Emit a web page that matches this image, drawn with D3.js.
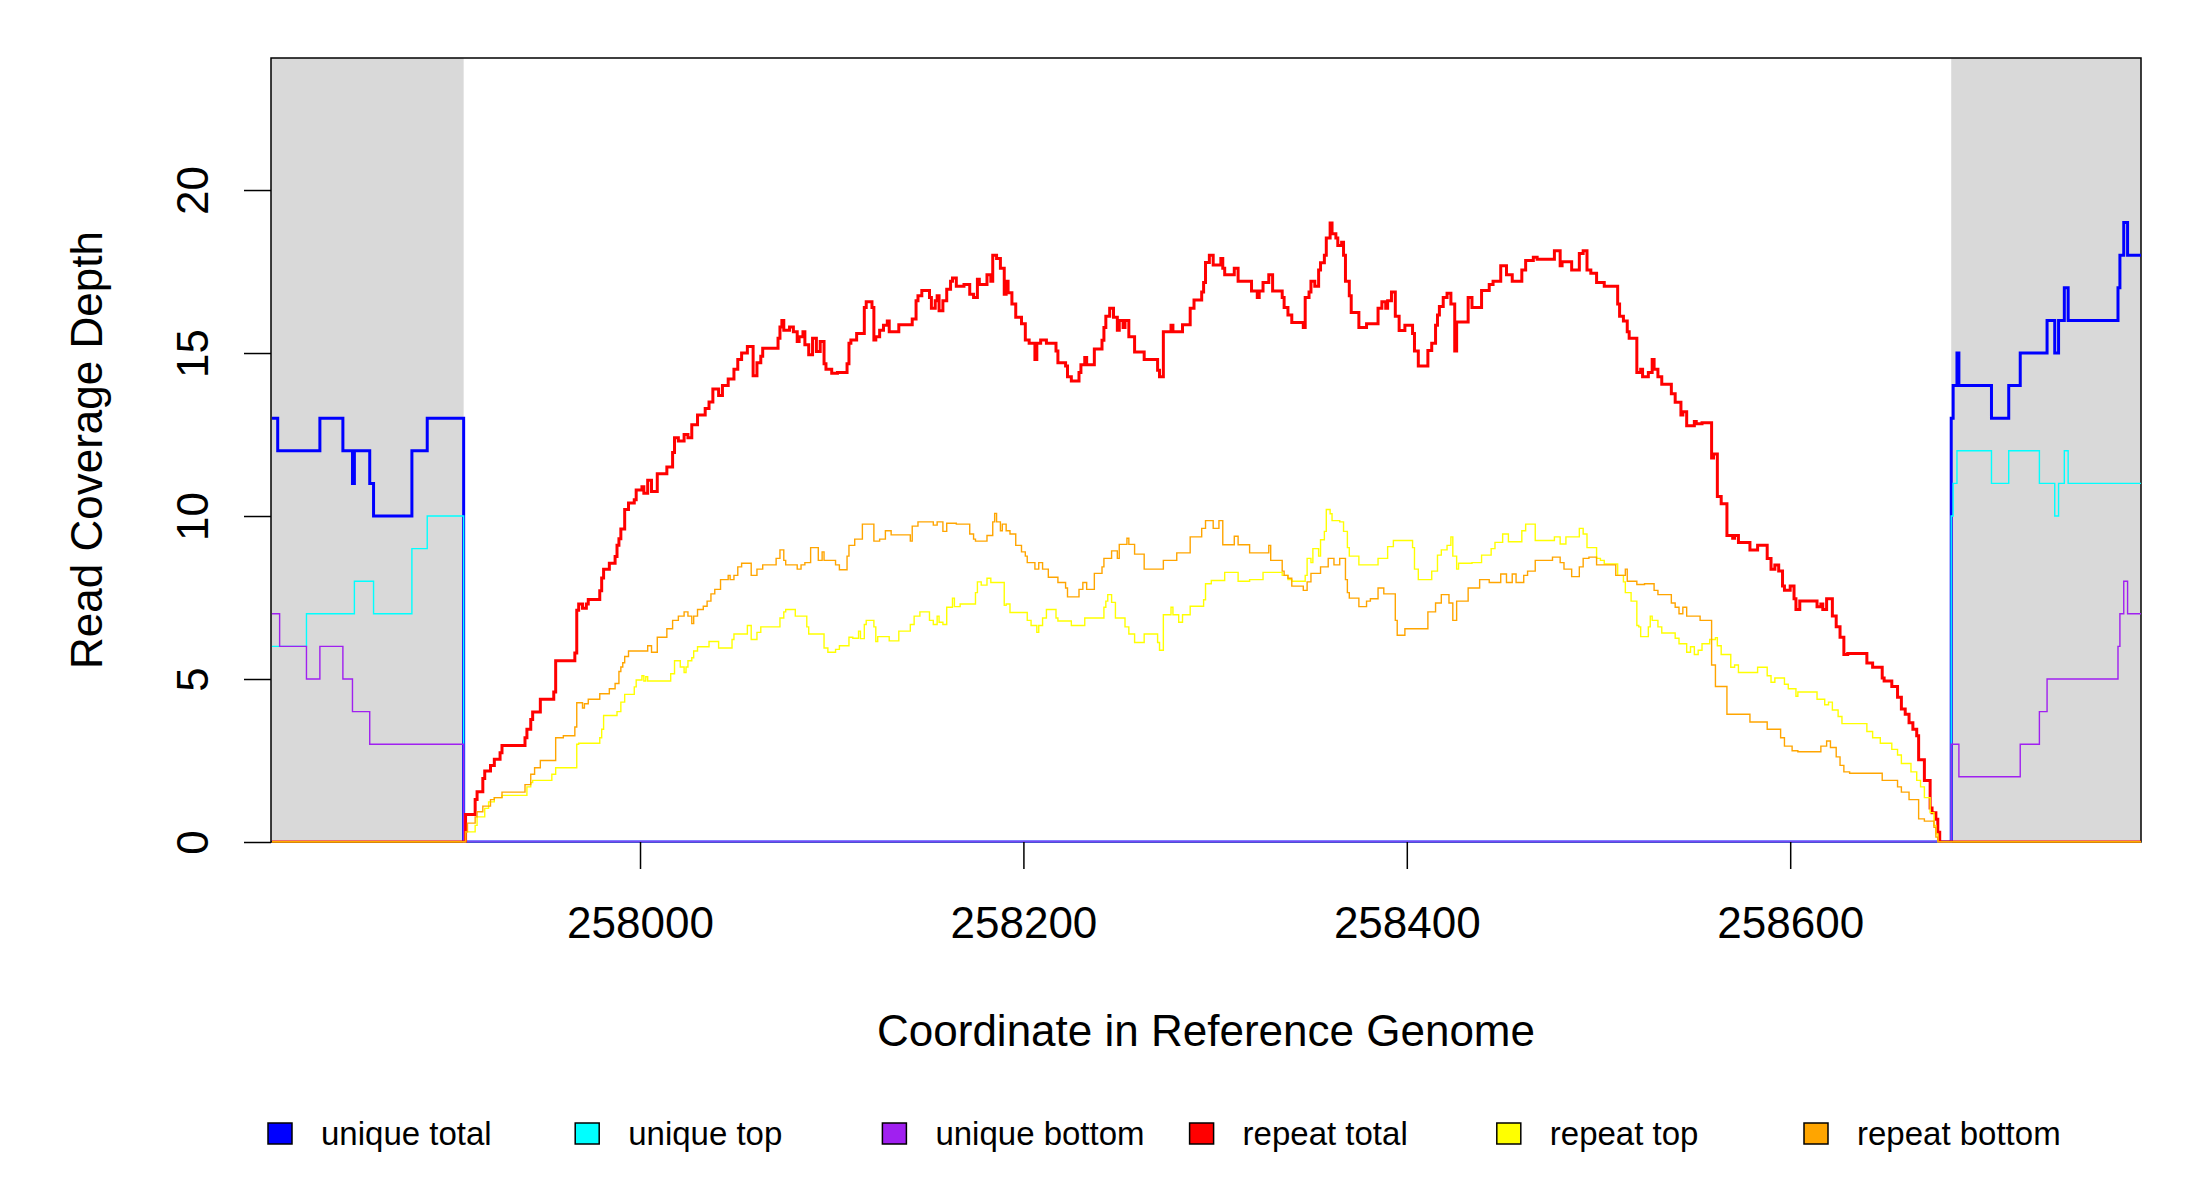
<!DOCTYPE html>
<html><head><meta charset="utf-8">
<script src="https://cdn.jsdelivr.net/npm/d3@7"></script>
<style>body{margin:0;background:#fff} text{font-family:"Liberation Sans",Arial,Helvetica,sans-serif;fill:#000}</style>
</head><body><svg id="c" width="2200" height="1200"></svg>
<script>
// ---------- data ----------
const xDomain = [257807.5, 258783];
const yDomain = [0, 24.05];
const xTicks = [258000, 258200, 258400, 258600];
const yTicks = [0, 5, 10, 15, 20];
const repeatRegion = [257908, 258684];
const legendLabels = ["unique total", "unique top", "unique bottom", "repeat total", "repeat top", "repeat bottom"];
const xTitle = "Coordinate in Reference Genome";
const yTitle = "Read Coverage Depth";

// step series: [start position, depth]
const uniqueTotal = [[257808,13],[257811,12],[257833,13],[257845,12],[257850,11],[257851,12],[257859,11],[257861,10],[257881,12],[257889,13],[257908,0],
 [258684,13],[258685,14],[258687,15],[258688,14],[258705,13],[258714,14],[258720,15],[258734,16],[258738,15],[258740,16],[258743,17],[258745,16],[258771,17],[258772,18],[258774,19],[258776,18]];
const uniqueTop = [[257808,6],[257826,7],[257851,8],[257861,7],[257881,9],[257889,10],[257908,0],
 [258684,10],[258685,11],[258687,12],[258705,11],[258714,12],[258730,11],[258738,10],[258740,11],[258743,12],[258745,11]];
const uniqueBottom = [[257808,7],[257812,6],[257826,5],[257833,6],[257845,5],[257850,4],[257859,3],[257908,0],
 [258684,3],[258688,2],[258720,3],[258730,4],[258734,5],[258771,6],[258772,7],[258774,8],[258776,7]];

const repeatTotal = [[257808,0],[257909,0.84],[257914,1.30],[257915,1.54],[257918,1.95],[257919,2.18],[257922,2.35],[257924,2.54],[257927,2.74],[257928,2.96],
 [257940,3.2],[257941,3.46],[257943,3.76],[257944,3.99],[257948,4.38],[257955,4.6],[257956,5.56],[257966,5.8],[257967,7.11],[257968,7.3],[257970,7.17],[257972,7.3],
 [257973,7.44],[257979,7.71],[257980,8.1],[257981,8.37],[257984,8.55],[257987,8.76],[257988,9.1],[257989,9.3],[257990,9.6],[257992,10.2],[257994,10.4],[257997,10.5],
 [257998,10.8],[258001,10.9],[258002,10.7],[258004,11.1],[258006,10.75],[258009,11.3],[258014,11.5],[258017,11.95],[258018,12.4],[258020,12.3],[258023,12.5],[258025,12.4],
 [258027,12.8],[258030,13.1],[258034,13.3],[258036,13.5],[258038,13.9],[258041,13.7],[258043,14.0],[258046,14.2],[258049,14.5],[258051,14.8],[258053,15.0],[258056,15.2],
 [258059,14.3],[258061,14.7],[258063,14.9],[258064,15.15],[258072,15.45],[258073,15.8],[258074,16.0],[258075,15.7],[258078,15.8],[258080,15.65],[258082,15.35],[258083,15.5],
 [258085,15.65],[258086,15.25],[258088,14.95],[258090,15.45],[258092,15.05],[258094,15.35],[258096,14.67],[258097,14.5],[258100,14.38],[258103,14.4],[258108,14.67],[258109,15.3],
 [258110,15.4],[258113,15.6],[258117,16.4],[258118,16.57],[258121,16.4],[258122,15.4],[258123,15.5],[258125,15.7],[258127,15.85],[258129,15.98],[258130,15.65],[258135,15.87],
 [258142,16.04],[258144,16.6],[258145,16.76],[258147,16.92],[258151,16.7],[258152,16.37],[258154,16.6],[258155,16.76],[258156,16.3],[258158,16.6],[258160,16.96],[258162,17.2],
 [258163,17.3],[258165,17.05],[258169,17.1],[258172,16.8],[258174,16.7],[258176,17.26],[258177,17.1],[258181,17.4],[258183,17.2],[258184,18.0],[258186,17.9],[258188,17.6],
 [258190,16.8],[258191,17.2],[258192,16.85],[258194,16.5],[258196,16.1],[258199,15.9],[258201,15.4],[258203,15.3],[258206,14.8],[258207,15.3],[258209,15.4],[258212,15.3],
 [258217,15.06],[258218,14.7],[258222,14.6],[258223,14.27],[258225,14.14],[258229,14.4],[258230,14.64],[258232,14.86],[258233,14.64],[258237,15.12],[258241,15.39],[258242,15.78],
 [258243,16.13],[258245,16.37],[258247,16.1],[258249,15.7],[258250,16.0],[258252,15.78],[258253,16.0],[258255,15.5],[258258,15.03],[258263,14.8],[258270,14.47],[258271,14.27],
 [258273,15.65],[258277,15.85],[258278,15.65],[258283,15.87],[258287,16.37],[258289,16.63],[258293,16.87],[258294,17.16],[258295,17.78],[258297,18.0],[258299,17.7],[258303,17.9],
 [258304,17.6],[258305,17.4],[258310,17.6],[258312,17.2],[258319,16.9],[258322,16.7],[258323,16.9],[258325,17.16],[258328,17.4],[258330,16.9],[258335,16.7],[258336,16.4],
 [258338,16.17],[258340,15.94],[258346,15.78],[258347,16.7],[258349,16.87],[258350,17.2],[258352,17.05],[258354,17.55],[258355,17.77],[258357,18.0],[258358,18.53],[258360,18.99],
 [258361,18.66],[258363,18.53],[258364,18.3],[258366,18.4],[258367,18.0],[258368,17.2],[258370,16.76],[258371,16.24],[258375,15.78],[258379,15.9],[258385,16.37],[258387,16.57],
 [258389,16.37],[258390,16.6],[258392,16.87],[258394,16.13],[258396,15.69],[258399,15.85],[258403,15.6],[258404,15.06],[258406,14.6],[258411,15.08],[258413,15.3],[258415,15.85],
 [258416,16.17],[258417,16.43],[258419,16.7],[258421,16.83],[258423,16.5],[258425,15.06],[258426,15.95],[258432,16.7],[258434,16.4],[258439,16.92],[258443,17.1],[258445,17.2],
 [258449,17.68],[258452,17.4],[258455,17.2],[258460,17.55],[258462,17.84],[258466,17.94],[258468,17.88],[258477,18.14],[258480,17.68],[258481,17.8],[258486,17.55],[258490,18.05],
 [258492,18.14],[258494,17.55],[258496,17.45],[258499,17.16],[258503,17.05],[258510,16.5],[258511,16.13],[258513,15.98],[258515,15.65],[258516,15.45],[258520,14.4],[258522,14.5],
 [258523,14.27],[258526,14.4],[258528,14.8],[258529,14.5],[258531,14.27],[258533,14.04],[258538,13.75],[258540,13.49],[258543,13.1],[258544,13.2],[258546,12.77],[258550,12.9],
 [258551,12.83],[258554,12.86],[258559,11.78],[258560,11.9],[258562,10.6],[258564,10.38],[258567,9.4],[258570,9.32],[258571,9.4],[258573,9.19],[258579,8.96],[258583,9.1],
 [258588,8.7],[258590,8.37],[258592,8.5],[258594,8.31],[258596,7.85],[258597,7.72],[258600,7.85],[258602,7.46],[258603,7.13],[258605,7.39],[258614,7.22],[258616,7.3],
 [258617,7.13],[258619,7.46],[258622,6.93],[258624,6.6],[258626,6.28],[258628,5.75],[258630,5.78],[258640,5.49],[258643,5.36],[258648,5.03],[258649,4.94],[258653,4.77],
 [258656,4.44],[258658,4.08],[258660,3.92],[258662,3.66],[258664,3.46],[258666,3.26],[258667,2.52],[258670,1.89],[258673,1.04],[258674,0.9],[258676,0.7],[258677,0.3],[258678,0]];

const repeatTop = [[257808,0],[257909,0.31],[257914,0.51],[257915,0.77],[257919,1.03],[257921,1.23],[257924,1.36],[257928,1.43],[257941,1.69],[257943,1.82],[257944,1.89],
 [257954,2.08],[257956,2.28],[257967,3.0],[257968,3.03],[257979,3.2],[257980,3.46],[257981,3.88],[257988,4.0],[257990,4.29],[257992,4.53],[257997,4.76],[257998,4.97],
 [258001,5.1],[258002,4.94],[258003,5.07],[258004,4.94],[258016,5.16],[258018,5.56],[258021,5.37],[258023,5.2],[258024,5.37],[258025,5.56],[258027,5.65],[258028,5.86],
 [258030,5.99],[258036,6.15],[258041,5.95],[258048,6.21],[258049,6.38],[258056,6.64],[258058,6.21],[258061,6.43],[258063,6.6],[258073,6.87],[258075,7.06],[258076,7.13],
 [258081,6.93],[258087,6.6],[258088,6.38],[258096,5.95],[258098,5.82],[258102,5.91],[258104,6.02],[258109,6.28],[258111,6.25],[258114,6.47],[258115,6.24],[258117,6.67],
 [258118,6.8],[258122,6.6],[258123,6.15],[258124,6.3],[258130,6.17],[258135,6.47],[258141,6.67],[258143,6.93],[258146,7.06],[258151,6.8],[258153,6.67],[258155,6.93],
 [258156,6.74],[258158,6.67],[258160,7.2],[258163,7.48],[258164,7.22],[258167,7.3],[258175,7.65],[258176,7.98],[258178,7.88],[258181,8.09],[258183,7.96],[258190,7.26],
 [258191,7.3],[258193,7.04],[258202,6.8],[258204,6.64],[258207,6.43],[258208,6.64],[258210,6.87],[258212,7.13],[258217,6.87],[258218,6.78],[258225,6.64],[258232,6.87],
 [258242,7.2],[258243,7.39],[258244,7.59],[258246,7.35],[258248,6.87],[258253,6.6],[258255,6.38],[258258,6.12],[258263,6.38],[258270,6.12],[258271,5.88],[258273,6.97],
 [258277,7.2],[258278,6.97],[258281,6.74],[258283,6.97],[258287,7.23],[258294,7.43],[258295,7.92],[258298,8.02],[258305,8.27],[258312,8.0],[258318,8.05],[258325,8.27],
 [258335,8.18],[258338,8.05],[258340,8.0],[258347,8.18],[258348,8.7],[258350,8.57],[258351,9.0],[258354,8.77],[258355,9.27],[258357,9.53],[258358,10.2],[258360,10.07],
 [258361,9.86],[258365,9.82],[258367,9.53],[258369,9.03],[258370,8.77],[258375,8.5],[258385,8.7],[258390,9.06],[258393,9.25],[258403,9.03],[258404,8.37],[258406,8.05],
 [258413,8.31],[258416,8.8],[258418,8.96],[258421,9.1],[258423,9.36],[258424,8.77],[258426,8.37],[258427,8.55],[258434,8.57],[258439,8.8],[258444,9.0],[258446,9.19],
 [258450,9.45],[258453,9.21],[258460,9.55],[258462,9.75],[258467,9.25],[258477,9.36],[258480,9.14],[258483,9.36],[258490,9.62],[258492,9.45],[258494,9.03],[258499,8.7],
 [258501,8.64],[258503,8.53],[258510,8.18],[258513,7.98],[258514,7.65],[258517,7.39],[258520,6.64],[258521,6.6],[258522,6.3],[258526,6.6],[258527,6.93],[258528,6.8],
 [258531,6.6],[258533,6.41],[258540,6.25],[258542,6.08],[258546,5.82],[258548,5.99],[258550,5.75],[258552,5.88],[258554,6.08],[258558,6.21],[258561,6.27],[258562,6.02],
 [258564,5.75],[258569,5.36],[258571,5.43],[258573,5.2],[258583,5.36],[258588,5.1],[258590,4.9],[258592,5.03],[258597,4.84],[258599,4.7],[258603,4.47],[258604,4.6],
 [258614,4.38],[258618,4.21],[258620,4.29],[258622,4.05],[258625,3.85],[258627,3.63],[258640,3.39],[258643,3.2],[258647,3.03],[258653,2.84],[258656,2.67],[258658,2.41],
 [258663,2.15],[258666,1.89],[258668,1.69],[258670,1.36],[258673,0.9],[258675,0.51],[258676,0.25],[258677,0]];

const repeatBottom = [[257808,0],[257909,0.31],[257910,0.58],[257914,0.77],[257915,0.93],[257918,1.1],[257922,1.3],[257924,1.36],[257928,1.53],[257940,1.76],[257943,2.08],
 [257945,2.28],[257948,2.5],[257956,3.2],[257960,3.26],[257966,3.53],[257967,4.27],[257970,4.11],[257971,4.24],[257973,4.38],[257979,4.55],[257984,4.7],[257987,4.86],
 [257989,5.23],[257990,5.37],[257991,5.5],[257992,5.69],[257994,5.86],[258004,6.02],[258006,5.82],[258009,6.28],[258014,6.54],[258017,6.8],[258020,6.93],[258023,7.06],
 [258025,6.93],[258027,6.7],[258028,6.93],[258030,7.13],[258033,7.23],[258035,7.39],[258037,7.61],[258039,7.75],[258042,8.05],[258046,8.18],[258047,8.05],[258049,8.18],
 [258051,8.44],[258053,8.55],[258058,8.18],[258061,8.37],[258064,8.5],[258071,8.7],[258073,8.96],[258075,8.64],[258076,8.5],[258082,8.37],[258084,8.5],[258086,8.57],
 [258089,9.03],[258093,8.64],[258095,8.9],[258096,8.64],[258102,8.5],[258104,8.35],[258108,8.77],[258109,9.1],[258112,9.29],[258116,9.75],[258122,9.23],[258125,9.29],
 [258128,9.55],[258131,9.42],[258141,9.23],[258142,9.69],[258145,9.82],[258153,9.72],[258155,9.82],[258158,9.53],[258160,9.78],[258165,9.75],[258172,9.45],[258174,9.29],
 [258175,9.23],[258181,9.4],[258184,9.82],[258185,10.08],[258186,9.82],[258188,9.55],[258189,9.75],[258191,9.55],[258193,9.45],[258196,9.1],[258199,8.9],[258201,8.77],
 [258202,8.57],[258206,8.37],[258208,8.57],[258210,8.37],[258213,8.12],[258218,7.96],[258222,7.79],[258223,7.52],[258229,7.75],[258231,7.96],[258233,7.75],[258237,8.24],
 [258241,8.44],[258242,8.7],[258246,8.93],[258249,8.7],[258250,9.13],[258254,9.32],[258255,9.13],[258258,8.83],[258263,8.37],[258273,8.64],[258280,8.87],[258287,9.36],
 [258293,9.62],[258295,9.86],[258299,9.62],[258302,9.86],[258304,9.12],[258310,9.38],[258312,9.12],[258318,8.87],[258328,9.1],[258329,8.64],[258335,8.31],[258336,8.18],
 [258338,8.09],[258340,7.85],[258346,7.72],[258348,7.98],[258350,8.24],[258355,8.44],[258359,8.7],[258362,8.5],[258365,8.7],[258368,8.05],[258369,7.65],[258370,7.48],
 [258375,7.22],[258379,7.39],[258381,7.46],[258385,7.79],[258388,7.61],[258394,6.8],[258395,6.34],[258399,6.54],[258411,7.06],[258415,7.33],[258418,7.59],[258422,7.33],
 [258424,6.8],[258426,7.39],[258432,7.79],[258438,8.05],[258443,7.96],[258449,8.22],[258452,7.96],[258455,8.22],[258457,7.96],[258461,8.18],[258463,8.31],[258467,8.64],
 [258476,8.74],[258480,8.57],[258482,8.37],[258486,8.14],[258490,8.44],[258492,8.7],[258495,8.74],[258499,8.5],[258509,8.18],[258514,8.37],[258515,8.0],[258520,7.9],
 [258524,7.92],[258529,7.72],[258531,7.59],[258538,7.33],[258540,7.2],[258542,7.0],[258544,7.2],[258546,6.93],[258553,6.8],[258559,5.43],[258561,4.77],[258567,3.92],
 [258579,3.68],[258588,3.46],[258595,3.2],[258597,2.94],[258601,2.8],[258604,2.77],[258616,2.94],[258619,3.1],[258621,2.9],[258624,2.61],[258626,2.35],[258628,2.15],
 [258631,2.11],[258648,1.89],[258656,1.69],[258658,1.53],[258662,1.3],[258667,0.71],[258670,0.64],[258675,0.45],[258676,0.15],[258677,0]];

// ---------- styles ----------
const seriesList = [uniqueTotal, uniqueTop, uniqueBottom, repeatTotal, repeatTop, repeatBottom];
const seriesColors = ["#0000FF", "#00FFFF", "#A020F0", "#FF0000", "#FFFF00", "#FFA500"];
const seriesWidths = [3, 1.4, 1.4, 3, 1.4, 1.4];

const W = 2200, H = 1200;
const plot = {left: 271, right: 2141, top: 58, bottom: 842};
const svg = d3.select("#c");
const x = d3.scaleLinear().domain(xDomain).range([plot.left, plot.right]);
const y = d3.scaleLinear().domain(yDomain).range([plot.bottom, plot.top]);

svg.append("rect").attr("width", W).attr("height", H).attr("fill", "#fff");

// grey flanking (unique) regions
[[xDomain[0], repeatRegion[0]], [repeatRegion[1], xDomain[1]]].forEach(r => {
  svg.append("rect").attr("x", x(r[0])).attr("y", plot.top)
    .attr("width", x(r[1]) - x(r[0])).attr("height", plot.bottom - plot.top)
    .attr("fill", "#D9D9D9");
});

// frame (drawn under the data lines)
svg.append("rect").attr("x", plot.left).attr("y", plot.top)
  .attr("width", plot.right - plot.left).attr("height", plot.bottom - plot.top)
  .attr("fill", "none").attr("stroke", "#000").attr("stroke-width", 1.5);

svg.append("clipPath").attr("id", "pc").append("rect")
  .attr("x", plot.left).attr("y", plot.top).attr("width", plot.right - plot.left).attr("height", plot.bottom - plot.top + 0.5);

const line = d3.line().x(d => x(d[0])).y(d => y(d[1])).curve(d3.curveStepAfter);
const g = svg.append("g").attr("clip-path", "url(#pc)");
seriesList.forEach((s, i) => {
  const pts = s.concat([[xDomain[1], s[s.length - 1][1]]]);
  g.append("path").datum(pts).attr("d", line).attr("fill", "none")
    .attr("stroke", seriesColors[i]).attr("stroke-width", seriesWidths[i])
    .attr("stroke-linejoin", "miter").attr("stroke-linecap", "butt");
});

// x axis
const xAxis = d3.axisBottom(x).tickValues(xTicks).tickSize(27).tickPadding(0).tickFormat(d3.format("d"));
const xa = svg.append("g").attr("transform", `translate(0,${plot.bottom})`).call(xAxis);
xa.select(".domain").remove();
xa.selectAll(".tick line").attr("stroke", "#000").attr("stroke-width", 1.5);
xa.selectAll(".tick text").attr("y", 96).attr("dy", null).attr("font-size", 44)
  .style("font-family", '"Liberation Sans",Arial,sans-serif').attr("fill", "#000");

// y axis
const yAxis = d3.axisLeft(y).tickValues(yTicks).tickSize(27).tickFormat(d3.format("d"));
const ya = svg.append("g").attr("transform", `translate(${plot.left},0)`).call(yAxis);
ya.select(".domain").remove();
ya.selectAll(".tick line").attr("stroke", "#000").attr("stroke-width", 1.5);
ya.selectAll(".tick text").attr("x", null).attr("dy", null)
  .attr("transform", "translate(-63,0) rotate(-90)").attr("text-anchor", "middle")
  .attr("font-size", 44).style("font-family", '"Liberation Sans",Arial,sans-serif').attr("fill", "#000");

// titles
svg.append("text").attr("x", (plot.left + plot.right) / 2).attr("y", 1046)
  .attr("text-anchor", "middle").attr("font-size", 44).text(xTitle);
svg.append("text").attr("transform", `translate(102,${(plot.top + plot.bottom) / 2}) rotate(-90)`)
  .attr("text-anchor", "middle").attr("font-size", 44).text(yTitle);

// legend
const lg = svg.append("g");
legendLabels.forEach((lab, i) => {
  const bx = 268 + i * 307.2;
  lg.append("rect").attr("x", bx).attr("y", 1123).attr("width", 24).attr("height", 21)
    .attr("fill", seriesColors[i]).attr("stroke", "#000").attr("stroke-width", 1.5);
  lg.append("text").attr("x", bx + 53).attr("y", 1145).attr("font-size", 33).text(lab);
});
</script>
</body></html>
